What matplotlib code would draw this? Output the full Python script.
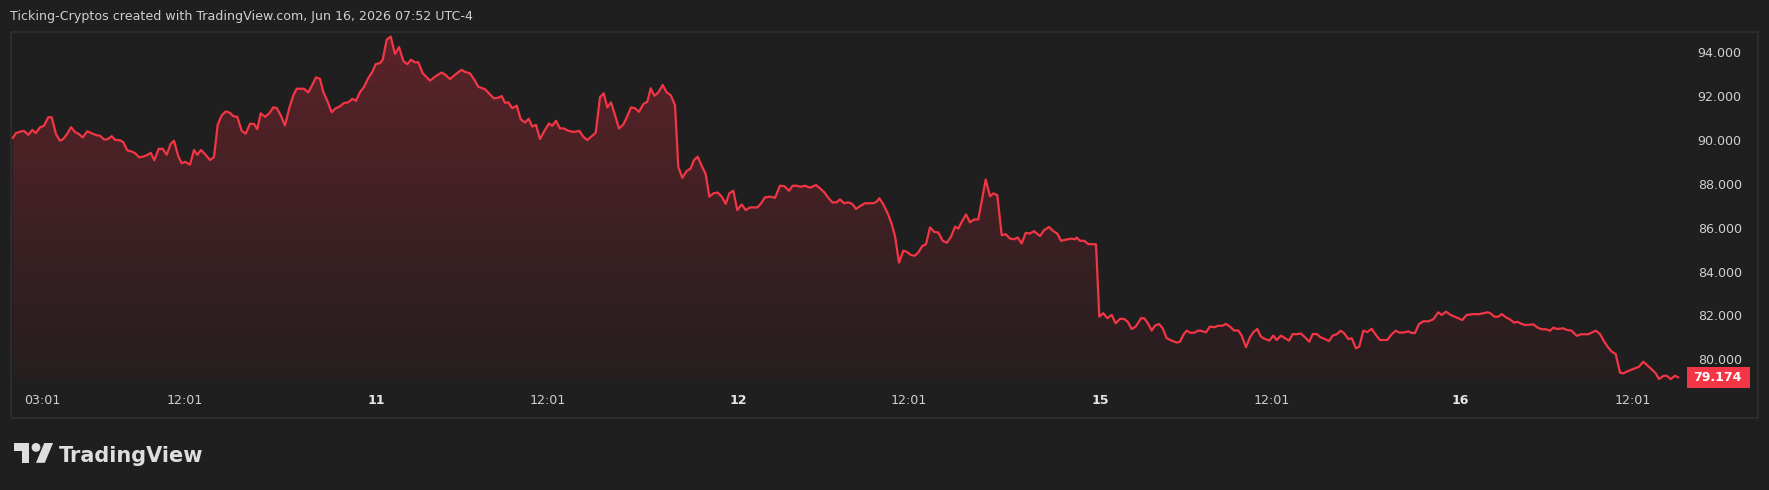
import numpy as np
import matplotlib
matplotlib.use("Agg")
import matplotlib.pyplot as plt
from matplotlib.patches import Rectangle, Polygon, Circle
import matplotlib.transforms as mtransforms

# ---------------- data ----------------
# time position along the chart (arbitrary bar units) and close price
t = [12.7, 16.0, 21.7, 24.0, 28.3, 32.3, 35.7, 40.0, 44.0, 48.3, 51.7, 56.0, 60.0, 63.3, 67.7,
     71.0, 75.0, 79.0, 82.7, 87.3, 91.7, 96.7, 100.0, 104.0, 107.3, 111.7, 115.0, 120.0, 123.3,
     127.3, 131.0, 135.0, 139.3, 144.0, 147.3, 150.7, 154.3, 158.7, 162.7, 166.7, 170.7, 174.0,
     178.3, 181.7, 185.0, 190.0, 194.0, 197.3, 201.0, 205.0, 210.0, 214.0, 217.7, 221.7, 226.0,
     230.0, 233.3, 237.3, 241.7, 245.7, 250.0, 254.0, 257.3, 260.7, 265.0, 269.3, 273.3, 276.7,
     280.7, 285.0, 289.3, 293.3, 296.7, 304.0, 308.3, 312.3, 316.0, 320.0, 323.3, 327.3, 331.7,
     335.0, 340.0, 344.0, 348.3, 352.3, 356.0, 360.0, 364.0, 368.3, 372.3, 375.7, 380.0, 382.7,
     386.7, 390.7, 395.0, 399.0, 403.3, 407.3, 411.0, 415.0, 418.3, 422.7, 430.0, 436.0, 441.7,
     445.0, 450.0, 456.7, 461.7, 465.0, 470.0, 475.0, 478.3, 485.0, 490.0, 494.0, 498.3, 501.7,
     505.0, 508.3, 512.3, 516.7, 520.7, 525.0, 528.7, 532.3, 536.0, 540.0, 544.3, 549.0, 552.3,
     556.0, 560.0, 564.0, 568.3, 574.0, 579.3, 583.3, 587.3, 591.0, 595.7, 600.0, 603.7, 607.3,
     611.0, 615.0, 619.0, 623.3, 627.3, 631.0, 635.0, 639.0, 643.3, 647.3, 650.7, 654.3, 658.3,
     662.7, 666.7, 670.7, 675.0, 678.3, 682.3, 686.7, 690.7, 694.0, 697.7, 701.7, 705.7, 709.3,
     713.3, 717.7, 721.7, 725.7, 729.3, 733.3, 737.3, 741.7, 745.7, 750.0, 757.3, 760.7, 765.0,
     770.0, 775.0, 780.0, 784.3, 789.0, 792.7, 796.7, 800.7, 805.0, 810.0, 816.0, 820.0, 824.3,
     828.3, 832.3, 836.7, 840.0, 844.0, 848.3, 852.3, 856.0, 860.7, 865.0, 873.3, 876.7, 879.3,
     883.3, 887.7, 891.7, 895.0, 899.0, 903.3, 906.7, 911.0, 915.0, 918.3, 922.3, 926.0, 930.0,
     934.0, 938.3, 942.7, 946.7, 951.0, 955.0, 958.3, 962.3, 966.0, 970.0, 974.0, 978.3, 985.7,
     990.0, 993.3, 997.3, 1001.7, 1005.7, 1010.0, 1014.0, 1017.7, 1021.7, 1025.7, 1030.0, 1034.0,
     1040.0, 1044.0, 1049.0, 1053.3, 1057.3, 1061.0, 1066.7, 1071.7, 1075.0, 1076.7, 1080.0,
     1084.3, 1088.3, 1096.0, 1099.3, 1103.3, 1107.3, 1111.7, 1115.7, 1120.0, 1124.0, 1127.7,
     1131.7, 1135.7, 1141.0, 1144.3, 1148.3, 1151.7, 1155.0, 1159.0, 1162.7, 1166.7, 1171.7,
     1176.7, 1180.0, 1183.3, 1186.7, 1190.0, 1194.3, 1198.3, 1201.7, 1206.0, 1210.0, 1214.3,
     1218.3, 1222.3, 1226.0, 1230.0, 1234.0, 1238.3, 1241.7, 1246.0, 1250.0, 1253.3, 1257.3,
     1260.7, 1263.3, 1269.3, 1273.3, 1276.7, 1281.0, 1285.0, 1289.0, 1292.7, 1296.7, 1300.7,
     1305.0, 1309.3, 1312.7, 1316.7, 1320.7, 1325.0, 1329.0, 1332.7, 1336.7, 1340.7, 1344.3,
     1348.3, 1351.7, 1356.0, 1359.3, 1363.3, 1367.3, 1371.7, 1375.7, 1380.0, 1387.3, 1391.7,
     1395.7, 1399.3, 1404.0, 1408.3, 1411.7, 1415.0, 1419.0, 1423.3, 1428.3, 1433.3, 1438.3,
     1441.7, 1446.0, 1450.7, 1456.7, 1462.3, 1466.7, 1473.3, 1478.3, 1482.7, 1487.7, 1490.7,
     1494.3, 1498.3, 1501.7, 1506.0, 1510.0, 1514.0, 1517.3, 1521.7, 1525.7, 1533.3, 1537.7,
     1541.7, 1546.0, 1550.0, 1553.3, 1557.3, 1563.3, 1566.7, 1571.7, 1576.7, 1581.0, 1588.3,
     1592.3, 1596.0, 1600.0, 1604.3, 1608.3, 1611.7, 1615.7, 1620.0, 1623.3, 1628.3, 1633.3,
     1639.0, 1643.3, 1647.7, 1651.7, 1655.7, 1659.0, 1663.3, 1666.7, 1670.7, 1675.0, 1678.3]

price = [90.08, 90.31, 90.39, 90.41, 90.23, 90.45, 90.31, 90.57, 90.64, 91.03, 91.03, 90.26, 89.96,
         90.04, 90.31, 90.58, 90.36, 90.26, 90.11, 90.39, 90.30, 90.21, 90.19, 90.02, 90.02, 90.17,
         90.00, 89.98, 89.89, 89.52, 89.48, 89.40, 89.20, 89.25, 89.31, 89.41, 89.07, 89.59, 89.59,
         89.32, 89.82, 89.96, 89.25, 88.93, 89.00, 88.87, 89.54, 89.32, 89.54, 89.35, 89.08, 89.22,
         90.69, 91.12, 91.30, 91.23, 91.08, 91.05, 90.41, 90.28, 90.73, 90.73, 90.49, 91.21, 91.05,
         91.21, 91.48, 91.45, 91.12, 90.66, 91.45, 92.03, 92.33, 92.33, 92.16, 92.51, 92.85, 92.78,
         92.18, 91.78, 91.25, 91.42, 91.53, 91.68, 91.71, 91.87, 91.78, 92.18, 92.41, 92.82, 93.09,
         93.45, 93.50, 93.65, 94.56, 94.71, 93.91, 94.23, 93.60, 93.45, 93.65, 93.53, 93.54, 93.04,
         92.70, 92.91, 93.07, 92.98, 92.77, 93.03, 93.19, 93.10, 93.03, 92.69, 92.42, 92.31, 92.07,
         91.89, 91.92, 92.00, 91.69, 91.71, 91.44, 91.56, 90.94, 90.79, 90.96, 90.61, 90.68, 90.04,
         90.40, 90.75, 90.64, 90.87, 90.52, 90.52, 90.41, 90.36, 90.41, 90.14, 89.99, 90.14, 90.32,
         91.94, 92.12, 91.48, 91.71, 91.13, 90.52, 90.70, 91.08, 91.48, 91.44, 91.28, 91.63, 91.74,
         92.35, 92.01, 92.16, 92.50, 92.16, 92.04, 91.58, 88.77, 88.27, 88.58, 88.70, 89.08, 89.23,
         88.82, 88.44, 87.41, 87.56, 87.60, 87.41, 87.08, 87.56, 87.68, 86.80, 87.06, 86.80, 86.92,
         86.92, 87.08, 87.38, 87.41, 87.36, 87.91, 87.89, 87.68, 87.91, 87.91, 87.86, 87.91, 87.82,
         87.94, 87.79, 87.61, 87.36, 87.15, 87.15, 87.29, 87.11, 87.15, 87.08, 86.85, 87.00, 87.11,
         87.11, 87.18, 87.34, 87.06, 86.65, 86.17, 85.62, 84.40, 84.95, 84.90, 84.75, 84.72, 84.87,
         85.16, 85.24, 86.01, 85.81, 85.78, 85.40, 85.31, 85.58, 86.04, 85.96, 86.31, 86.60, 86.24,
         86.37, 86.37, 88.19, 87.43, 87.56, 87.48, 85.66, 85.70, 85.50, 85.47, 85.55, 85.28, 85.76,
         85.73, 85.84, 85.62, 85.88, 86.03, 85.84, 85.73, 85.40, 85.46, 85.50, 85.47, 85.55, 85.40,
         85.40, 85.25, 85.24, 81.94, 82.10, 81.87, 82.02, 81.64, 81.84, 81.84, 81.71, 81.38, 81.49,
         81.87, 81.87, 81.61, 81.31, 81.53, 81.61, 81.41, 80.96, 80.85, 80.76, 80.80, 81.11, 81.31,
         81.21, 81.21, 81.31, 81.29, 81.23, 81.49, 81.46, 81.53, 81.53, 81.61, 81.49, 81.31, 81.31,
         81.08, 80.55, 81.00, 81.23, 81.38, 81.05, 80.96, 80.85, 81.08, 80.88, 81.08, 80.96, 80.85,
         81.15, 81.14, 81.18, 81.00, 80.80, 81.15, 81.15, 81.00, 80.92, 80.83, 81.08, 81.14, 81.30,
         81.18, 80.92, 80.96, 80.50, 80.58, 81.30, 81.24, 81.39, 81.12, 80.88, 80.88, 81.14, 81.30,
         81.22, 81.22, 81.27, 81.20, 81.20, 81.61, 81.73, 81.73, 81.82, 82.14, 82.02, 82.17, 82.02,
         81.90, 81.79, 82.02, 82.06, 82.05, 82.09, 82.14, 82.09, 81.94, 81.94, 82.06, 81.91, 81.82,
         81.67, 81.71, 81.61, 81.56, 81.59, 81.44, 81.37, 81.37, 81.30, 81.44, 81.38, 81.41, 81.34,
         81.30, 81.07, 81.14, 81.14, 81.23, 81.30, 81.15, 80.80, 80.53, 80.35, 80.24, 79.39, 79.36,
         79.47, 79.56, 79.66, 79.89, 79.71, 79.54, 79.36, 79.10, 79.24, 79.25, 79.10, 79.25, 79.174]

time_tick_pos = [42, 185, 376, 548, 738, 909, 1100, 1272, 1460, 1633]
time_tick_labels = ["03:01", "12:01", "11", "12:01", "12", "12:01", "15", "12:01", "16", "12:01"]
day_labels = ["11", "12", "15", "16"]
price_ticks = [80, 82, 84, 86, 88, 90, 92, 94]
last_price = 79.174
header = "Ticking-Cryptos created with TradingView.com, Jun 16, 2026 07:52 UTC-4"

# ---------------- style ----------------
W, H, DPI = 1769, 490, 100
BG = "#1f1f1f"
LINE = "#f23645"
TXT = "#cfcfcf"
FONT = "DejaVu Sans"
plt.rcParams["font.family"] = [FONT]

fig = plt.figure(figsize=(W / DPI, H / DPI), dpi=DPI, facecolor=BG)

# overlay in figure pixel coordinates (frame, header, logo)
ov = fig.add_axes([0, 0, 1, 1])
ov.set_xlim(0, W)
ov.set_ylim(H, 0)
ov.axis("off")

# pane geometry (pixels)
pl, pr, pt, pb = 11, 1684, 33, 381
ax = fig.add_axes([pl / W, 1 - pb / H, (pr - pl) / W, (pb - pt) / H])
ax.patch.set_visible(False)
for s in ax.spines.values():
    s.set_visible(False)
ax.set_xlim(pl, pr)
ylo, yhi = 79.01, 94.87
ax.set_ylim(ylo, yhi)

# gradient area fill
g = np.linspace(0, 1, 300).reshape(-1, 1, 1)
top_c = np.array([92, 35, 41]) / 255.0
bot_c = np.array([37, 30, 31]) / 255.0
img = top_c * (1 - g) + bot_c * g
im = ax.imshow(img, extent=[pl, pr, ylo, yhi], origin="upper", aspect="auto",
               zorder=1, interpolation="bilinear")
verts = [(t[0], ylo)] + list(zip(t, price)) + [(t[-1], ylo)]
clip_poly = Polygon(verts, closed=True, facecolor="none", edgecolor="none",
                    transform=ax.transData)
ax.add_patch(clip_poly)
im.set_clip_path(clip_poly)

ax.plot(t, price, color=LINE, lw=1.6, zorder=3, solid_joinstyle="round",
        solid_capstyle="round", clip_on=False)

# y axis on right
ax.yaxis.tick_right()
ax.set_yticks(price_ticks)
ax.set_yticklabels([f"{v:.3f}" for v in price_ticks])
ax.tick_params(axis="y", length=0, pad=41.5, labelsize=9.1, labelcolor=TXT)
for lab in ax.get_yticklabels():
    lab.set_horizontalalignment("right")

# x axis
ax.set_xticks(time_tick_pos)
ax.set_xticklabels(time_tick_labels)
ax.tick_params(axis="x", length=0, pad=9.2, labelsize=9.1, labelcolor=TXT)
for lab in ax.get_xticklabels():
    if lab.get_text() in day_labels:
        lab.set_fontweight("bold")
        lab.set_color("#e6e6e6")

# last price label
blend = mtransforms.blended_transform_factory(ov.transData, ax.transData)
box_h = 0.93
ax.add_patch(Rectangle((1687, last_price - box_h / 2), 63, box_h, transform=blend,
                       facecolor=LINE, edgecolor="none", clip_on=False, zorder=5))
ax.text(1742, last_price, f"{last_price:.3f}", transform=blend, ha="right", va="center",
        color="white", fontsize=9.1, fontweight="bold", clip_on=False, zorder=6)

# frame
ov.add_patch(Rectangle((10.5, 32.5), 1747, 385, facecolor="none", edgecolor="#303030", lw=1.1))

# header
ov.text(10, 16.5, header, ha="left", va="center", color=TXT, fontsize=9.1)

# TradingView logo
s, x0, y0 = 1.1, 14, 438.6
def P(x, y):
    return (x0 + s * x, y0 + s * y)
LOGO = "#dedede"
ov.add_patch(Polygon([P(0, 4), P(14, 4), P(14, 22), P(7, 22), P(7, 11), P(0, 11)],
                     closed=True, facecolor=LOGO, edgecolor="none"))
ov.add_patch(Circle(P(20, 8), 4 * s, facecolor=LOGO, edgecolor="none"))
ov.add_patch(Polygon([P(28, 22), P(20, 22), P(27.5, 4), P(35.5, 4)],
                     closed=True, facecolor=LOGO, edgecolor="none"))
ov.text(59, 461.5, "TradingView", ha="left", va="baseline", color=LOGO,
        fontsize=15.0, fontweight="bold")

fig.savefig("out.png", dpi=DPI, facecolor=BG)
